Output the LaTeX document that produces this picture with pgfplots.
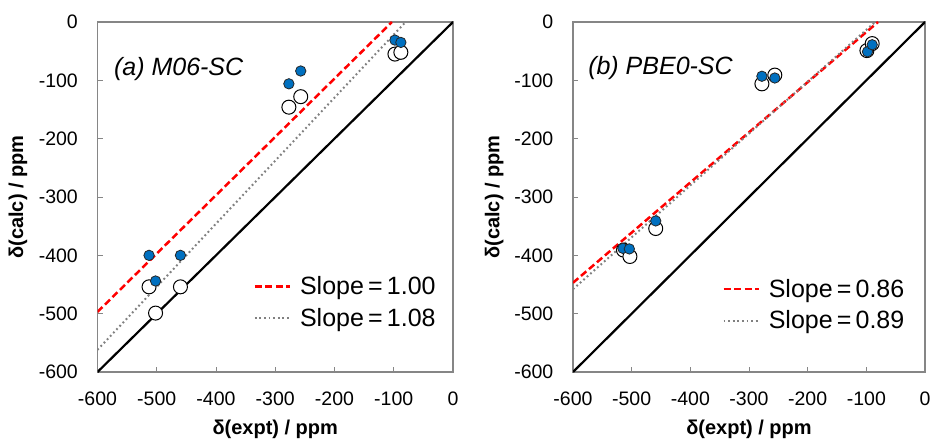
\documentclass[border=0pt]{standalone}
\usepackage{fontspec}
\setmainfont{Liberation Sans}
\usepackage{pgfplots}
\pgfplotsset{compat=1.18}
\definecolor{ptblue}{RGB}{0,112,192}
\definecolor{axgray}{RGB}{134,134,134}
\definecolor{fitgray}{RGB}{128,128,128}

\pgfplotsset{
  panel/.style={
    scale only axis, height=350pt,
    xmin=-600, xmax=0, ymin=-600, ymax=0,
    xtick={-600,-500,-400,-300,-200,-100,0},
    ytick={-600,-500,-400,-300,-200,-100,0},
    xticklabels={-600,-500,-400,-300,-200,-100,0},
    yticklabels={-600,-500,-400,-300,-200,-100,0},
    tick align=inside, major tick length=5pt,
    tick style={axgray, line width=1pt},
    axis line style={axgray, line width=1.2pt},
    xtick pos=bottom, ytick pos=left,
    ticklabel style={font=\fontsize{19.5}{20}\selectfont},
    xticklabel style={anchor=north, inner sep=0pt, yshift=-20pt},
    yticklabel style={anchor=east, inner sep=0pt, xshift=-19.5pt},
    xlabel={δ(expt) / ppm},
    ylabel={δ(calc) / ppm},
    label style={font=\bfseries\fontsize{20}{22}\selectfont},
    xlabel style={at={(axis description cs:0.5,-0.163)}, anchor=center},
    ylabel style={at={(axis description cs:-0.224,0.5)}, anchor=center},
    legend style={draw=none, fill=none, font=\fontsize{25}{27}\selectfont,
      anchor=north west, row sep=8pt,
      /tikz/every odd column/.append style={column sep=7pt}},
    legend cell align=left,
    legend image code/.code={\draw[##1] (0pt,0pt) -- (35pt,0pt);},
  },
  fitred/.style={red, dash pattern=on 7pt off 3.5pt, line width=2.5pt},
  fitgrey/.style={fitgray, dash pattern=on 1.8pt off 2.8pt, line width=2pt},
  openpt/.style={only marks, mark=*, mark size=7pt,
    mark options={fill=white, draw=black, line width=1pt}, forget plot},
  bluept/.style={only marks, mark=*, mark size=5.2pt,
    mark options={fill=ptblue, draw=black!85, line width=0.8pt}, forget plot},
}

\begin{document}
\begin{tikzpicture}
\useasboundingbox (0,0) rectangle (934pt,439pt);

% (a) M06-SC
\begin{axis}[panel, width=355.5pt, at={(97.5pt,67pt)}, anchor=south west,
    legend style={at={(axis description cs:0.43,0.285)}}]
  \addplot[black, line width=2.2pt, forget plot] coordinates {(-600,-600) (0,0)};
  \addplot[fitred] coordinates {(-600,-497) (-103,0)};
  \addlegendentry{Slope\,=\,1.00}
  \addplot[fitgrey] coordinates {(-600,-562) (-80,0)};
  \addlegendentry{Slope\,=\,1.08}
  \addplot[openpt] coordinates {
    (-513,-454) (-460,-454) (-502,-499) (-277,-146) (-257,-128) (-98,-55) (-88,-52)
  };
  \addplot[bluept] coordinates {
    (-513,-400) (-460,-400) (-502,-444) (-277,-106) (-257,-84) (-98,-31) (-88,-35)
  };
  \node[anchor=base west, font=\itshape\fontsize{25}{27}\selectfont]
    at (axis cs:-578,-91) {(a) M06-SC};
\end{axis}

% (b) PBE0-SC
\begin{axis}[panel, width=352pt, at={(573pt,67pt)}, anchor=south west,
    legend style={at={(axis description cs:0.415,0.277)}}]
  \addplot[black, line width=2.2pt, forget plot] coordinates {(-600,-600) (0,0)};
  \addplot[fitred] coordinates {(-600,-447) (-80,0)};
  \addlegendentry{Slope\,=\,0.86}
  \addplot[fitgrey] coordinates {(-600,-458) (-85,0)};
  \addlegendentry{Slope\,=\,0.89}
  \addplot[openpt] coordinates {
    (-514,-391) (-503,-402) (-459,-354) (-278,-106) (-256,-91) (-99,-49) (-90,-37)
  };
  \addplot[bluept] coordinates {
    (-515,-388) (-504,-389) (-459,-341) (-278,-93) (-256,-96) (-98,-51) (-90,-39)
  };
  \node[anchor=base west, font=\itshape\fontsize{25}{27}\selectfont]
    at (axis cs:-580,-90) {(b) PBE0-SC};
\end{axis}
\end{tikzpicture}
\end{document}
